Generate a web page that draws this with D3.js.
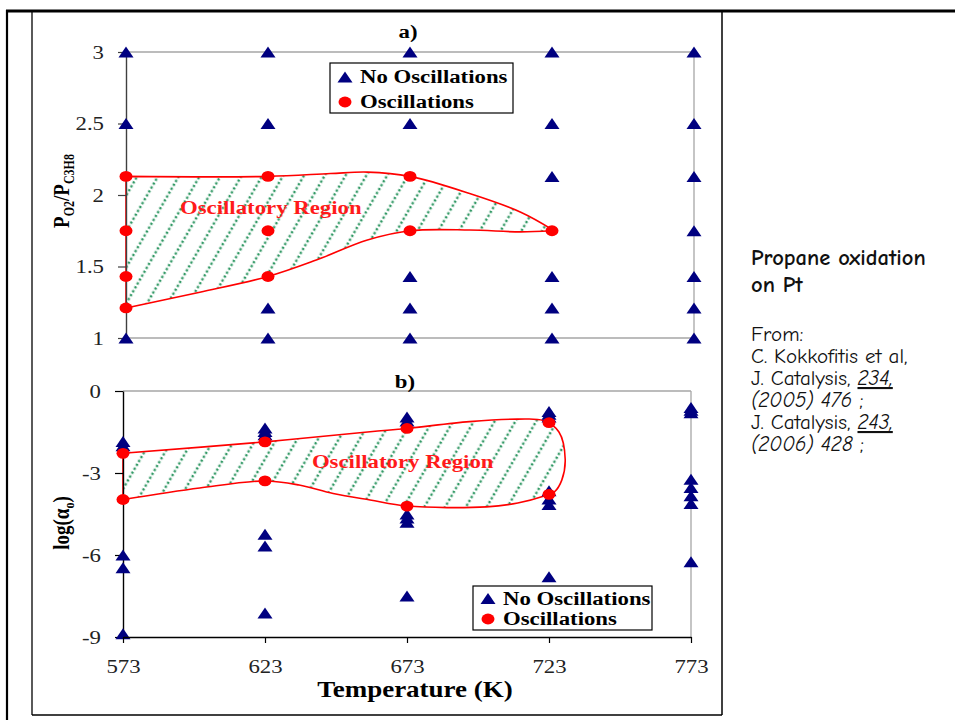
<!DOCTYPE html>
<html>
<head>
<meta charset="utf-8">
<script src="https://cdn.jsdelivr.net/npm/d3@7"></script>
<style>
  body { margin: 0; background: #fff; }
  svg text { font-family: "Times New Roman", "Liberation Serif", serif; }
  .sx { transform-box: fill-box; transform: scaleX(1.2); }
  .sx-l { transform-origin: left center; }
  .sx-m { transform-origin: center; }
  .sx-r { transform-origin: right center; }
  .note text { font-family: "Comic Sans MS", "Comic Neue", "DejaVu Sans", sans-serif; fill: #111; }
</style>
</head>
<body>
<svg id="chart" width="955" height="720"></svg>
<script>
// ---- data ----
const temps = [573, 623, 673, 723, 773];
const ratioTicks = [1, 1.5, 2, 2.5, 3];
const logTicks = [0, -3, -6, -9];

// panel a) P_O2 / P_C3H8 per temperature
const noOscA = [
  [573, [3, 2.5, 1]],
  [623, [3, 2.5, 1.21, 1]],
  [673, [3, 2.5, 1.43, 1.21, 1]],
  [723, [3, 2.5, 2.13, 1.43, 1.21, 1]],
  [773, [3, 2.5, 2.13, 1.75, 1.43, 1.21, 1]]
];
const oscA = [
  [573, [2.13, 1.75, 1.43, 1.21]],
  [623, [2.13, 1.75, 1.43]],
  [673, [2.13, 1.75]],
  [723, [1.75]]
];
// oscillatory region outline, panel a)
const regionAUpper = [[573, 2.13], [623, 2.13], [645, 2.15], [658, 2.16], [673, 2.13], [694, 2.01], [712, 1.88], [723, 1.76]];
const regionALower = [[573, 1.21], [599, 1.32], [623, 1.43], [640, 1.545], [658, 1.685], [673, 1.75], [694, 1.755], [712, 1.742], [723, 1.75]];

// panel b) log(alpha_o) per temperature
const noOscB = [
  [573, [-1.85, -2.0, -6.0, -6.47, -8.88]],
  [623, [-1.35, -1.48, -1.6, -5.24, -5.67, -8.12]],
  [673, [-0.95, -1.1, -4.5, -4.65, -4.8, -7.5]],
  [723, [-0.75, -0.85, -0.95, -3.65, -3.95, -4.15, -6.8]],
  [773, [-0.6, -0.7, -0.8, -3.23, -3.53, -3.83, -4.12, -6.25]]
];
const oscB = [
  [573, [-2.28, -3.97]],
  [623, [-1.86, -3.29]],
  [673, [-1.37, -4.21]],
  [723, [-1.16, -3.78]]
];
const regionB = [[573, -2.28], [623, -1.86], [660, -1.49], [673, -1.37], [695, -1.12], [712, -1.03], [721, -1.08],
  [726.5, -1.5], [728.7, -2.5], [727.5, -3.26], [725, -3.68], [721, -3.85], [712, -4.1], [701, -4.24], [673, -4.21],
  [660, -3.99], [647, -3.75], [635, -3.44], [623, -3.29], [600, -3.55], [573, -3.97]];

const regionLabelA = [624, 1.87];
const regionLabelB = [671.5, -2.82];

const svg = d3.select("#chart");

const flat = rows => rows.flatMap(([t, vs]) => vs.map(v => ({ t, v })));
const tri = (cx, cy) => `M${cx - 7.5},${cy + 5.5}L${cx},${cy - 5.5}L${cx + 7.5},${cy + 5.5}Z`;

// frame of the slide
const frame = svg.append("g").attr("stroke", "#000").attr("fill", "none");
frame.append("line").attr("x1", 6).attr("x2", 955).attr("y1", 11).attr("y2", 11).attr("stroke-width", 2.8);
frame.append("line").attr("x1", 7).attr("x2", 7).attr("y1", 10).attr("y2", 720).attr("stroke-width", 2.2);
frame.append("line").attr("x1", 32).attr("x2", 32).attr("y1", 11).attr("y2", 715).attr("stroke-width", 1.3);
frame.append("line").attr("x1", 32).attr("x2", 722).attr("y1", 715).attr("y2", 715).attr("stroke-width", 1.3);
frame.append("line").attr("x1", 722).attr("x2", 722).attr("y1", 11).attr("y2", 715).attr("stroke-width", 1.5);

// hatch pattern
const defs = svg.append("defs");
const pat = defs.append("pattern")
    .attr("id", "hatch")
    .attr("patternUnits", "userSpaceOnUse")
    .attr("width", 18).attr("height", 18)
    .attr("patternTransform", "rotate(30)");
pat.append("line")
    .attr("x1", 9).attr("x2", 9).attr("y1", 0).attr("y2", 18)
    .attr("stroke", "#339966")
    .attr("stroke-width", 2.5)
    .attr("stroke-dasharray", "2.2,2.3");

function drawPanel(o) {
    const g = svg.append("g");
    const { x, y } = o;

    // gray frame lines (top and right)
    g.append("line").attr("x1", x(573)).attr("x2", x(773)).attr("y1", y(o.yTop)).attr("y2", y(o.yTop))
        .attr("stroke", "#a6a6a6").attr("stroke-width", 1.3);
    g.append("line").attr("x1", x(773)).attr("x2", x(773)).attr("y1", y(o.yTop)).attr("y2", y(o.yBot))
        .attr("stroke", "#a6a6a6").attr("stroke-width", 1.3);
    if (o.grayBottom) {
        g.append("line").attr("x1", x(573)).attr("x2", x(773)).attr("y1", y(o.yBot)).attr("y2", y(o.yBot))
            .attr("stroke", "#a6a6a6").attr("stroke-width", 1.3);
    }

    // region
    g.append("path").attr("d", o.regionPath)
        .attr("fill", "url(#hatch)")
        .attr("stroke", "#ff0000")
        .attr("stroke-width", 1.6);

    g.append("text")
        .attr("class", "sx sx-m")
        .attr("x", x(o.label[0])).attr("y", y(o.label[1]))
        .attr("text-anchor", "middle")
        .style("font-size", "19px").style("font-weight", "bold").style("fill", "#ff1a1a")
        .text("Oscillatory Region");

    // y axis
    const ya = g.append("g")
        .attr("transform", `translate(${x(573)},0)`)
        .call(d3.axisLeft(y).tickValues(o.yTicks).tickFormat(d => d).tickSize(8).tickSizeOuter(0).tickPadding(14));
    ya.select(".domain").attr("stroke", o.axisColor).attr("stroke-width", 1.4);
    ya.selectAll(".tick line").attr("stroke", o.axisColor).attr("stroke-width", 1.2);
    ya.selectAll(".tick text").attr("class", "sx sx-r")
        .style("font-size", "19px").style("fill", "#222").attr("font-family", null);

    // markers
    g.selectAll(".tri").data(flat(o.noOsc)).join("path")
        .attr("d", d => tri(x(d.t), y(d.v)))
        .attr("fill", "#000080");
    g.selectAll(".dot").data(flat(o.osc)).join("ellipse")
        .attr("cx", d => x(d.t)).attr("cy", d => y(d.v))
        .attr("rx", 6.5).attr("ry", 5.4)
        .attr("fill", "#ff0000");

    // panel letter
    g.append("text").attr("class", "sx sx-m")
        .attr("x", o.letterPos[0]).attr("y", o.letterPos[1])
        .attr("text-anchor", "middle")
        .style("font-size", "19px").style("font-weight", "bold")
        .text(o.letter);

    // legend
    const lg = g.append("g").attr("transform", `translate(${o.legend.x},${o.legend.y})`);
    lg.append("rect").attr("width", o.legend.w).attr("height", o.legend.h)
        .attr("fill", "#fff").attr("stroke", "#000").attr("stroke-width", 1.2);
    const items = [{ label: "No Oscillations", kind: "tri" }, { label: "Oscillations", kind: "dot" }];
    items.forEach((d, i) => {
        const cy = o.legend.first + i * o.legend.step;
        if (d.kind === "tri") lg.append("path").attr("d", tri(15, cy)).attr("fill", "#000080");
        else lg.append("ellipse").attr("cx", 15).attr("cy", cy).attr("rx", 6.5).attr("ry", 5.4).attr("fill", "#ff0000");
        lg.append("text").attr("class", "sx sx-l")
            .attr("x", 30).attr("y", cy + 6.5)
            .style("font-size", "19px").style("font-weight", "bold")
            .text(d.label);
    });
    return g;
}

// ---- panel a ----
const xA = d3.scaleLinear().domain([573, 773]).range([126, 694]);
const yA = d3.scaleLinear().domain([1, 3]).range([338, 52]);
const curve = d3.line().x(d => xA(d[0])).y(d => yA(d[1])).curve(d3.curveCatmullRom.alpha(0.5));
const pathA = curve(regionAUpper) + curve(regionALower.slice().reverse()).replace(/^M/, "L") + "Z";

drawPanel({
    x: xA, y: yA, yTop: 3, yBot: 1, grayBottom: true,
    yTicks: ratioTicks, axisColor: "#404040",
    noOsc: noOscA, osc: oscA, regionPath: pathA, label: regionLabelA,
    letter: "a)", letterPos: [408, 38],
    legend: { x: 330, y: 63, w: 183, h: 50, first: 14, step: 25 }
});

// y title a
const tA = svg.append("text")
    .attr("transform", "translate(69,191) scale(1.2,1) rotate(-90)")
    .attr("text-anchor", "middle")
    .style("font-size", "19px").style("font-weight", "bold");
tA.append("tspan").text("P");
tA.append("tspan").attr("dy", 4).style("font-size", "12px").text("O2");
tA.append("tspan").attr("dy", -4).text("/P");
tA.append("tspan").attr("dy", 4).style("font-size", "12px").text("C3H8");

// ---- panel b ----
const xB = d3.scaleLinear().domain([573, 773]).range([123, 691]);
const yB = d3.scaleLinear().domain([-9, 0]).range([637, 391]);
const curveB = d3.line().x(d => xB(d[0])).y(d => yB(d[1])).curve(d3.curveCatmullRom.alpha(0.5));
const pathB = curveB(regionB) + "Z";

drawPanel({
    x: xB, y: yB, yTop: 0, yBot: -9, grayBottom: false,
    yTicks: logTicks, axisColor: "#000",
    noOsc: noOscB, osc: oscB, regionPath: pathB, label: regionLabelB,
    letter: "b)", letterPos: [405, 388],
    legend: { x: 473, y: 586, w: 179, h: 44, first: 12.5, step: 20.5 }
});

// x axis b
const xa = svg.append("g")
    .attr("transform", `translate(0,${yB(-9)})`)
    .call(d3.axisBottom(xB).tickValues(temps).tickFormat(d => d).tickSize(6).tickSizeOuter(0).tickPadding(16.5));
xa.select(".domain").attr("stroke", "#000").attr("stroke-width", 1.4);
xa.selectAll(".tick line").attr("stroke", "#000").attr("stroke-width", 1.2);
xa.selectAll(".tick text").attr("class", "sx sx-m")
    .style("font-size", "19px").style("fill", "#222").attr("font-family", null);

svg.append("text").attr("class", "sx sx-m")
    .attr("x", 415).attr("y", 697)
    .attr("text-anchor", "middle")
    .style("font-size", "22.5px").style("font-weight", "bold")
    .text("Temperature (K)");

// y title b
const tB = svg.append("text")
    .attr("transform", "translate(69,523) scale(1.2,1) rotate(-90)")
    .attr("text-anchor", "middle")
    .style("font-size", "19px").style("font-weight", "bold");
tB.append("tspan").text("log(α");
tB.append("tspan").attr("dy", 4).style("font-size", "12px").text("o");
tB.append("tspan").attr("dy", -4).text(")");

// ---- side note ----
const note = svg.append("g").attr("class", "note").attr("transform", "translate(751,0)");
note.append("text").attr("y", 265).style("font-size", "22.5px").style("font-weight", "bold").text("Propane oxidation");
note.append("text").attr("y", 292).style("font-size", "22.5px").style("font-weight", "bold").text("on Pt");

const refs = [
    [{ t: "From:" }],
    [{ t: "C. Kokkofitis et al," }],
    [{ t: "J. Catalysis, " }, { t: "234,", it: true, u: true }],
    [{ t: "(2005) 476", it: true }, { t: " ;" }],
    [{ t: "J. Catalysis, " }, { t: "243,", it: true, u: true }],
    [{ t: "(2006) 428", it: true }, { t: " ;" }]
];
refs.forEach((parts, i) => {
    const t = note.append("text").attr("y", 341 + i * 22).style("font-size", "21px");
    parts.forEach(p => {
        t.append("tspan")
            .style("font-style", p.it ? "italic" : null)
            .style("text-decoration", p.u ? "underline" : null)
            .text(p.t);
    });
});
</script>
</body>
</html>
